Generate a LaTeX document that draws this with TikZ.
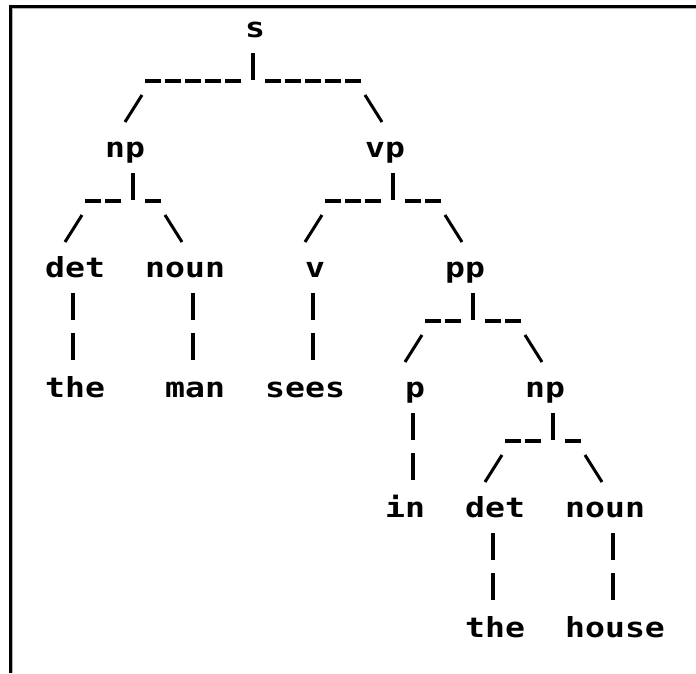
\documentclass[tikz,border=0pt]{standalone}
\usepackage{fontspec}
\newfontfamily\treefont[FakeStretch=1.2]{DejaVu Sans Mono Bold}
\usetikzlibrary{calc}

\tikzset{
  word/.style={font={\treefont\fontsize{27.6}{30}\selectfont}, anchor=base west, inner sep=0pt},
  tickbar/.style={line width=3.8pt},
  stembar/.style={tickbar, dash pattern=on 27pt off 13pt},
  underbar/.style={line width=3.5pt, dash pattern=on 16pt off 4pt},
  slantbar/.style={line width=3pt}
}

\begin{document}
\begin{tikzpicture}[x=20pt,y=-40pt]
\useasboundingbox (0pt,0pt) rectangle (696pt,-673pt);
% window frame
\draw[black!30,line width=1pt] (12.5pt,-673pt) |- (696pt,-8pt);
\draw[line width=3pt] (10.5pt,-673pt) |- (696pt,-6pt);

\begin{scope}[shift={(5pt,-37pt)},every node/.style={word}]
% words: column and row of the text grid
\node (s) at (12,0) {s};
\node (np1) at (5,3) {np};
\node (vp) at (18,3) {vp};
\node (det1) at (2,6) {det};
\node (noun1) at (7,6) {noun};
\node (v) at (15,6) {v};
\node (pp) at (22,6) {pp};
\node (the1) at (2,9) {the};
\node (man) at (8,9) {man};
\node (sees) at (13,9) {sees};
\node (p) at (20,9) {p};
\node (np2) at (26,9) {np};
\node (in) at (19,12) {in};
\node (det2) at (23,12) {det};
\node (noun2) at (28,12) {noun};
\node (the2) at (23,15) {the};
\node (house) at (28,15) {house};

% s
\draw[tickbar] ($(s.base west)+(0.4,0.4)$) -- ++(0,0.675);
\draw[underbar] ($(s.base west)+(-0.2,1.1)$) -- ($(np1.base west)+(2,-1.9)$);
\draw[slantbar] ($(np1.base west)+(1,-0.875)$) -- ++(0.85,-0.675);
\draw[underbar] ($(s.base west)+(1,1.1)$) -- ($(vp.base west)+(-0.2,-1.9)$);
\draw[slantbar] ($(vp.base west)+(0,-1.55)$) -- ++(0.85,0.675);

% np
\draw[tickbar] ($(np1.base west)+(1.4,0.4)$) -- ++(0,0.675);
\draw[underbar] ($(np1.base west)+(0.8,1.1)$) -- ($(det1.base west)+(2,-1.9)$);
\draw[slantbar] ($(det1.base west)+(1,-0.875)$) -- ++(0.85,-0.675);
\draw[underbar] ($(np1.base west)+(2,1.1)$) -- ($(noun1.base west)+(0.8,-1.9)$);
\draw[slantbar] ($(noun1.base west)+(1,-1.55)$) -- ++(0.85,0.675);

% vp
\draw[tickbar] ($(vp.base west)+(1.4,0.4)$) -- ++(0,0.675);
\draw[underbar] ($(vp.base west)+(0.8,1.1)$) -- ($(v.base west)+(1,-1.9)$);
\draw[slantbar] ($(v.base west)+(0,-0.875)$) -- ++(0.85,-0.675);
\draw[underbar] ($(vp.base west)+(2,1.1)$) -- ($(pp.base west)+(-0.2,-1.9)$);
\draw[slantbar] ($(pp.base west)+(0,-1.55)$) -- ++(0.85,0.675);

% pp
\draw[tickbar] ($(pp.base west)+(1.4,0.4)$) -- ++(0,0.675);
\draw[underbar] ($(pp.base west)+(0.8,1.1)$) -- ($(p.base west)+(1,-1.9)$);
\draw[slantbar] ($(p.base west)+(0,-0.875)$) -- ++(0.85,-0.675);
\draw[underbar] ($(pp.base west)+(2,1.1)$) -- ($(np2.base west)+(-0.2,-1.9)$);
\draw[slantbar] ($(np2.base west)+(0,-1.55)$) -- ++(0.85,0.675);

% np under pp
\draw[tickbar] ($(np2.base west)+(1.4,0.4)$) -- ++(0,0.675);
\draw[underbar] ($(np2.base west)+(0.8,1.1)$) -- ($(det2.base west)+(2,-1.9)$);
\draw[slantbar] ($(det2.base west)+(1,-0.875)$) -- ++(0.85,-0.675);
\draw[underbar] ($(np2.base west)+(2,1.1)$) -- ($(noun2.base west)+(0.8,-1.9)$);
\draw[slantbar] ($(noun2.base west)+(1,-1.55)$) -- ++(0.85,0.675);

% words under the leaves
\draw[stembar] ($(det1.base west)+(1.4,0.4)$) -- ($(the1.base west)+(1.4,-0.925)$);
\draw[stembar] ($(noun1.base west)+(2.4,0.4)$) -- ($(man.base west)+(1.4,-0.925)$);
\draw[stembar] ($(v.base west)+(0.4,0.4)$) -- ($(sees.base west)+(2.4,-0.925)$);
\draw[stembar] ($(p.base west)+(0.4,0.4)$) -- ($(in.base west)+(1.4,-0.925)$);
\draw[stembar] ($(det2.base west)+(1.4,0.4)$) -- ($(the2.base west)+(1.4,-0.925)$);
\draw[stembar] ($(noun2.base west)+(2.4,0.4)$) -- ($(house.base west)+(2.4,-0.925)$);
\end{scope}
\end{tikzpicture}
\end{document}
